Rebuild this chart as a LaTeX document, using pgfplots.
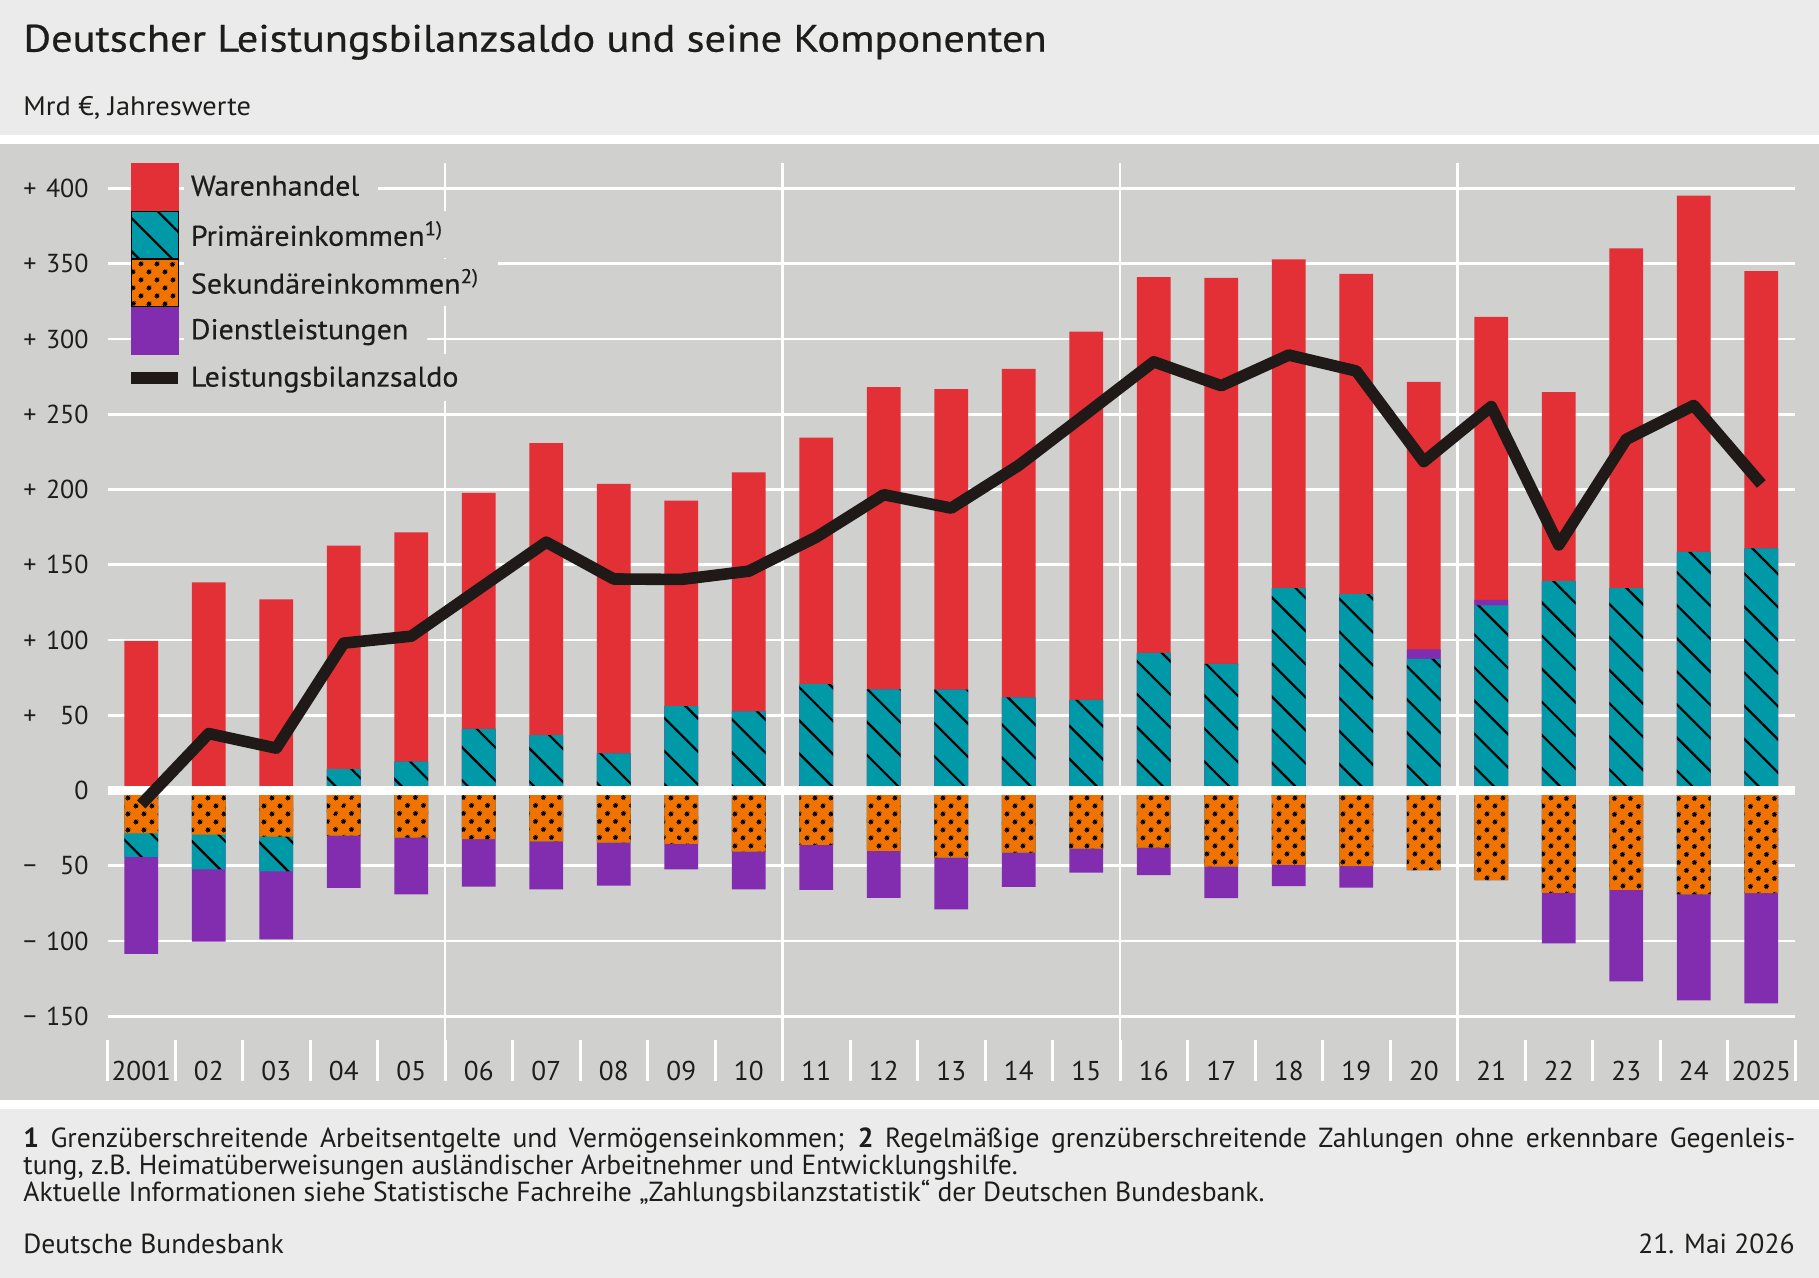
\documentclass[border=0pt]{standalone}
\usepackage{fontspec}
\setmainfont{PT Sans}
\newfontfamily\titlefont[FakeStretch=1.11,FakeBold=0.6]{PT Sans}
\newfontfamily\subfont[FakeStretch=1.06]{PT Sans}
\newfontfamily\legfont[FakeStretch=1.05,FakeBold=0.3]{PT Sans}
\usepackage{pgfplots}
\pgfplotsset{compat=1.18}
\usepackage{pgfplotstable}
\usetikzlibrary{patterns.meta}
\definecolor{headbg}{HTML}{EBEBEB}
\definecolor{plotbg}{HTML}{D0D0CF}
\definecolor{txt}{HTML}{1D1D1B}
\definecolor{cRed}{HTML}{E33036}
\definecolor{cTeal}{HTML}{0099A8}
\definecolor{cOrange}{HTML}{F07300}
\definecolor{cPurple}{HTML}{822CB0}
\definecolor{cLine}{HTML}{1F1A17}
\newcommand{\tfont}{\fontsize{13}{15}\selectfont}
\newcommand{\xfont}{\fontsize{13.6}{16}\selectfont}
\newcommand{\lfont}{\legfont\fontsize{14.3}{17}\selectfont}
\newcommand{\ffont}{\fontsize{13.8}{16.5}\selectfont}
\newcommand{\posv}[1]{\makebox[32.65pt]{+\hfill#1}}
\newcommand{\negv}[1]{\makebox[32.65pt]{−\hfill#1}}
\tikzset{
  hatchT/.style={pattern={Lines[angle=-45,distance=11.7pt,line width=1.1pt]},pattern color=black},
  dotsO/.style={pattern={Dots[radius=1.3pt,distance=5.85pt,angle=45]},pattern color=black}
}
\pgfplotsset{mybar/.style={ybar, bar width=16.85pt, bar shift=0pt, draw=none, forget plot}}
\pgfplotstableread{
x trade prim sec serv saldo
0  99.3 -15.7 -28.5 -64.4 -9.3
1 138.3 -23.0 -29.4 -48.1 37.8
2 127.0 -23.0 -30.7 -45.2 28.1
3 148.6  14.1 -30.0 -34.8 97.9
4 152.4  19.1 -31.3 -37.7 102.5
5 156.8  40.9 -32.4 -31.5 133.8
6 194.0  36.7 -33.8 -31.9 165.0
7 179.0  24.7 -34.7 -28.5 140.5
8 136.5  56.1 -35.5 -16.9 140.2
9 158.8  52.6 -40.6 -25.1 145.7
10 163.8 70.6 -36.2 -29.9 168.3
11 200.7 67.2 -40.2 -31.2 196.5
12 199.6 67.0 -44.6 -34.4 187.6
13 218.2 61.9 -41.3 -22.8 216.0
14 244.8 60.1 -38.6 -16.0 250.3
15 249.7 91.4 -38.0 -18.3 284.8
16 256.4 84.1 -50.6 -21.0 268.9
17 218.4 134.4 -49.5 -14.0 289.3
18 212.8 130.5 -50.2 -14.4 278.7
19 177.7 87.4 -53.0 6.4 218.5
20 188.0 123.0 -59.5 3.6 255.1
21 125.6 139.1 -68.1 -33.5 163.1
22 225.7 134.4 -66.1 -60.7 233.3
23 236.7 158.5 -69.0 -70.4 255.8
24 184.2 160.8 -68.3 -73.1 203.6
}\data
\begin{document}
\begin{tikzpicture}
\useasboundingbox (0,0) rectangle (909.5pt,639pt);
\fill[headbg] (0,571.5pt) rectangle (909.5pt,639pt);
\fill[white] (0,567pt) rectangle (909.5pt,571.5pt);
\fill[plotbg] (0,89pt) rectangle (909.5pt,567pt);
\fill[white] (0,84.65pt) rectangle (909.5pt,89pt);
\fill[headbg] (0,0) rectangle (909.5pt,84.65pt);
\node[anchor=base west, inner sep=0pt, text=txt, font=\titlefont\fontsize{19.1}{22}\selectfont] at (11.5pt,613.15pt) {Deutscher Leistungsbilanzsaldo und seine Komponenten};
\node[anchor=base west, inner sep=0pt, text=txt, font=\subfont\fontsize{13.4}{16}\selectfont] at (11.5pt,581pt) {Mrd €, Jahreswerte};
\begin{axis}[
  at={(53.75pt,119pt)}, anchor=south west,
  scale only axis, width=843.75pt, height=438.35pt,
  xmin=-0.5, xmax=24.5, ymin=-165.8, ymax=416.7,
  axis line style={draw=none},
  xtick={0,...,24},
  xticklabels={2001,02,03,04,05,06,07,08,09,10,11,12,13,14,15,16,17,18,19,20,21,22,23,24,2025},
  minor xtick={-0.5,0.5,...,24.5},
  extra x ticks={4.5,9.5,14.5,19.5},
  extra x tick labels={},
  extra x tick style={xmajorgrids=true, major tick length=0pt},
  ytick={-150,-100,-50,0,50,100,150,200,250,300,350,400},
  yticklabels={\negv{150},\negv{100},\negv{50},0,\posv{50},\posv{100},\posv{150},\posv{200},\posv{250},\posv{300},\posv{350},\posv{400}},
  ymajorgrids=true,
  major grid style={draw=white, line width=1.4pt},
  xtick pos=left, ytick pos=left,
  tick align=outside,
  major tick length=0pt,
  minor tick length=20.7pt,
  minor tick style={draw=white, line width=1.5pt},
  xticklabel style={font=\xfont, text=txt, anchor=base, inner sep=0pt, yshift=-20.3pt},
  yticklabel style={font=\tfont, text=txt, anchor=east, inner sep=0pt, xshift=-9.25pt},
  legend style={at={(0.01055,1)}, anchor=north west, draw=none, fill=none,
    inner sep=0pt, outer sep=0pt, row sep=0pt, column sep=0pt,
    nodes={fill=plotbg, inner xsep=3.5pt, inner ysep=0pt, minimum height=23.5pt, text=txt, font=\lfont, anchor=west}},
  legend cell align=left,
]
\addplot[mybar, fill=cRed] table[x=x, y expr={\thisrow{trade}+max(\thisrow{prim},0)+max(\thisrow{serv},0)}]{\data};
\addplot[mybar, fill=cPurple] table[x=x, y expr={max(\thisrow{prim},0)+max(\thisrow{serv},0)}]{\data};
\addplot[mybar, fill=cTeal, postaction={hatchT}] table[x=x, y expr={max(\thisrow{prim},0)}]{\data};
\addplot[mybar, fill=cPurple] table[x=x, y expr={\thisrow{sec}+min(\thisrow{prim},0)+min(\thisrow{serv},0)}]{\data};
\addplot[mybar, fill=cTeal, postaction={hatchT}] table[x=x, y expr={\thisrow{sec}+min(\thisrow{prim},0)}]{\data};
\addplot[mybar, fill=cOrange, postaction={dotsO}] table[x=x, y=sec]{\data};
\addplot[white, line width=4.15pt, forget plot] coordinates {(-0.5,0) (24.5,0)};
\addplot[cLine, line width=5.8pt, line join=round, forget plot] table[x=x, y=saldo]{\data};
\addlegendimage{legend image code/.code={\fill[cRed] (0pt,-11.75pt) rectangle (23.5pt,11.75pt);}}
\addlegendentry{Warenhandel\hspace*{6pt}}
\addlegendimage{legend image code/.code={\fill[cTeal] (0pt,-11.75pt) rectangle (23.5pt,11.75pt); \fill[hatchT] (0pt,-11.75pt) rectangle (23.5pt,11.75pt);}}
\addlegendentry{Primäreinkommen\textsuperscript{1)}\hspace*{6pt}}
\addlegendimage{legend image code/.code={\fill[cOrange] (0pt,-11.75pt) rectangle (23.5pt,11.75pt); \fill[dotsO] (0pt,-11.75pt) rectangle (23.5pt,11.75pt);}}
\addlegendentry{Sekundäreinkommen\textsuperscript{2)}\hspace*{6pt}}
\addlegendimage{legend image code/.code={\fill[cPurple] (0pt,-11.75pt) rectangle (23.5pt,11.75pt);}}
\addlegendentry{Dienstleistungen\hspace*{6pt}}
\addlegendimage{legend image code/.code={\draw[cLine, line width=5.8pt] (0pt,0pt) -- (23.5pt,0pt);}}
\addlegendentry{Leistungsbilanzsaldo\hspace*{6pt}}
\end{axis}
\node[anchor=base west, inner sep=0pt, text=txt, font=\ffont] at (11.5pt,65.15pt) {\makebox[886pt][s]{\textbf{1} Grenzüberschreitende Arbeitsentgelte und Vermögenseinkommen; \textbf{2} Regelmäßige grenzüberschreitende Zahlungen ohne erkennbare Gegenleis-}};
\node[anchor=base west, inner sep=0pt, text=txt, font=\ffont] at (11.5pt,51.5pt) {tung, z.B. Heimatüberweisungen ausländischer Arbeitnehmer und Entwicklungshilfe.};
\node[anchor=base west, inner sep=0pt, text=txt, font=\ffont] at (11.5pt,38pt) {Aktuelle Informationen siehe Statistische Fachreihe „Zahlungsbilanzstatistik“ der Deutschen Bundesbank.};
\node[anchor=base west, inner sep=0pt, text=txt, font=\ffont] at (11.5pt,12.35pt) {Deutsche Bundesbank};
\node[anchor=base east, inner sep=0pt, text=txt, font=\ffont] at (897.5pt,12.35pt) {21. Mai 2026};
\end{tikzpicture}
\end{document}
